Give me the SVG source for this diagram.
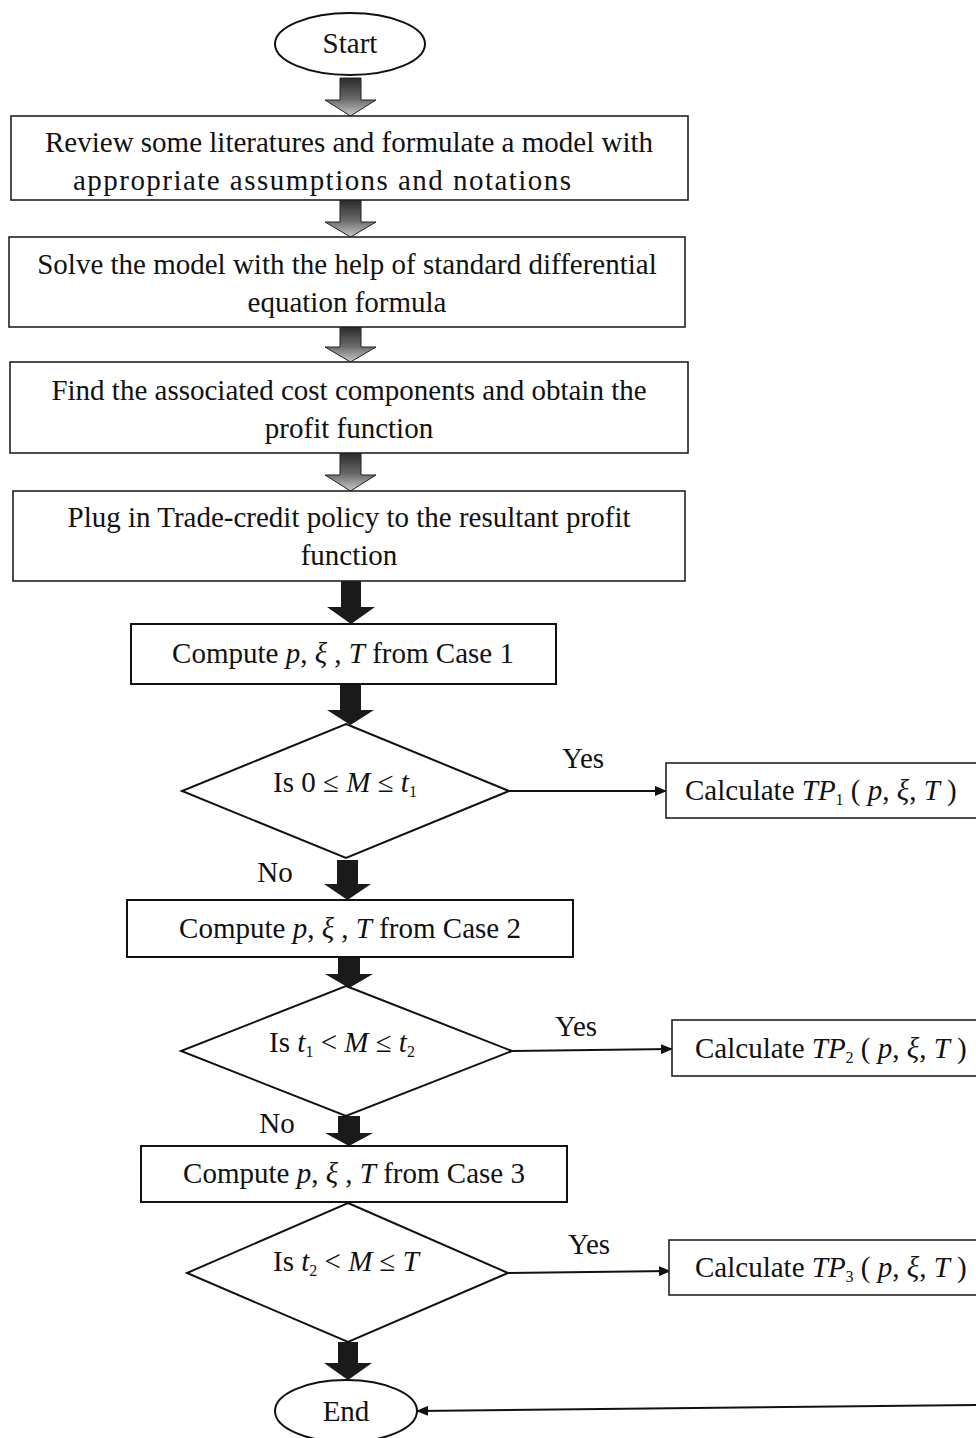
<svg xmlns="http://www.w3.org/2000/svg" width="976" height="1438" viewBox="0 0 976 1438">
<defs>
<style>
.box{fill:#fff;stroke:#222;stroke-width:1.6}
.sh{fill:#fff;stroke:#111;stroke-width:2}
.t{font-family:"Liberation Serif","Times New Roman",serif;font-size:29px;fill:#111}
.m{font-style:italic}
.sub{font-size:16px}
.ln{stroke:#111;stroke-width:2;fill:none}
.blk{fill:#1a1a1a}
.grd{fill:url(#gs);stroke:#222;stroke-width:1}
</style>
<linearGradient id="gs" x1="0" y1="0" x2="0" y2="1">
<stop offset="0" stop-color="#2a2a2a"/>
<stop offset="0.55" stop-color="#6a6a6a"/>
<stop offset="1" stop-color="#c8c8c8"/>
</linearGradient>
<marker id="ah" markerWidth="12" markerHeight="10" refX="11" refY="5" orient="auto" markerUnits="userSpaceOnUse">
<path d="M0,0 L12,5 L0,10 Z" fill="#111"/>
</marker>
</defs>

<g id="connectors">
<path class="grd" d="M340,78 H361 V100 H376 L350.5,116 L325,100 H340 Z"/>
<path class="grd" d="M340,200 H361 V222 H376 L350.5,237 L325,222 H340 Z"/>
<path class="grd" d="M340,327 H361 V347 H376 L350.5,362 L325,347 H340 Z"/>
<path class="grd" d="M340,453 H361 V475 H376 L350.5,491 L325,475 H340 Z"/>
<path class="blk" d="M341,581 H361 V607 H375 L351,624 L327,607 H341 Z"/>
<path class="blk" d="M340,684 H361 V710 H374 L350.5,725 L327,710 H340 Z"/>
<path class="blk" d="M337,860 H358 V884 H371 L347.5,900 L324,884 H337 Z"/>
<path class="blk" d="M338,957 H360 V974 H373 L349,988 L325,974 H338 Z"/>
<path class="blk" d="M338,1116 H360 V1133 H373 L349,1146 L325,1133 H338 Z"/>
<path class="blk" d="M338,1342 H358 V1363 H372 L348,1380 L324,1363 H338 Z"/>
<line class="ln" x1="509" y1="791" x2="666" y2="791" marker-end="url(#ah)"/>
<line class="ln" x1="512" y1="1051" x2="672" y2="1049" marker-end="url(#ah)"/>
<line class="ln" x1="508" y1="1273" x2="670" y2="1271" marker-end="url(#ah)"/>
<line class="ln" x1="976" y1="1405" x2="417" y2="1411" marker-end="url(#ah)"/>
<text class="t" x="583" y="768" text-anchor="middle">Yes</text>
<text class="t" x="576" y="1036" text-anchor="middle">Yes</text>
<text class="t" x="589" y="1254" text-anchor="middle">Yes</text>
<text class="t" x="275" y="882" text-anchor="middle">No</text>
<text class="t" x="277" y="1133" text-anchor="middle">No</text>
</g>

<g id="start">
<ellipse class="sh" cx="350" cy="44" rx="75" ry="31"/>
<text class="t" x="350" y="53" text-anchor="middle">Start</text>
</g>

<g id="review">
<rect class="box" x="11" y="116" width="677" height="84"/>
<text class="t" x="349" y="152" text-anchor="middle">Review some literatures and formulate a model with</text>
<text class="t" x="73" y="190" textLength="498" lengthAdjust="spacing">appropriate assumptions and notations</text>
</g>

<g id="solve">
<rect class="box" x="9" y="237" width="676" height="90"/>
<text class="t" x="347" y="274" text-anchor="middle">Solve the model with the help of standard differential</text>
<text class="t" x="347" y="312" text-anchor="middle">equation formula</text>
</g>

<g id="cost">
<rect class="box" x="10" y="362" width="678" height="91"/>
<text class="t" x="349" y="400" text-anchor="middle">Find the associated cost components and obtain the</text>
<text class="t" x="349" y="438" text-anchor="middle">profit function</text>
</g>

<g id="plug">
<rect class="box" x="13" y="491" width="672" height="90"/>
<text class="t" x="349" y="527" text-anchor="middle">Plug in Trade-credit policy to the resultant profit</text>
<text class="t" x="349" y="565" text-anchor="middle">function</text>
</g>

<g id="case1">
<rect class="sh" x="131" y="624" width="425" height="60"/>
<text class="t" x="343" y="663" text-anchor="middle">Compute  <tspan class="m">p</tspan>, <tspan class="m">ξ</tspan> , <tspan class="m">T</tspan>  from Case 1</text>
</g>

<g id="dec1">
<polygon class="sh" points="346,724 509,791 346,858 182,791"/>
<text class="t" x="345" y="792" text-anchor="middle">Is   0 ≤ <tspan class="m">M</tspan>  ≤ <tspan class="m">t</tspan><tspan class="sub" dy="5">1</tspan></text>
</g>

<g id="tp1">
<rect class="box" x="666" y="763" width="320" height="55"/>
<text class="t" x="685" y="800">Calculate <tspan class="m">TP</tspan><tspan class="sub" dy="5">1</tspan><tspan dy="-5"> ( </tspan><tspan class="m">p</tspan>, <tspan class="m">ξ</tspan>, <tspan class="m">T</tspan> )</text>
</g>

<g id="case2">
<rect class="sh" x="127" y="900" width="446" height="57"/>
<text class="t" x="350" y="938" text-anchor="middle">Compute  <tspan class="m">p</tspan>, <tspan class="m">ξ</tspan> , <tspan class="m">T</tspan>  from Case 2</text>
</g>

<g id="dec2">
<polygon class="sh" points="346,986 512,1051 346,1116 181,1051"/>
<text class="t" x="342" y="1052" text-anchor="middle">Is  <tspan class="m">t</tspan><tspan class="sub" dy="5">1</tspan><tspan dy="-5"> &lt; </tspan><tspan class="m">M</tspan> ≤ <tspan class="m">t</tspan><tspan class="sub" dy="5">2</tspan></text>
</g>

<g id="tp2">
<rect class="box" x="672" y="1020" width="314" height="56"/>
<text class="t" x="695" y="1058">Calculate <tspan class="m">TP</tspan><tspan class="sub" dy="5">2</tspan><tspan dy="-5"> ( </tspan><tspan class="m">p</tspan>, <tspan class="m">ξ</tspan>, <tspan class="m">T</tspan> )</text>
</g>

<g id="case3">
<rect class="sh" x="141" y="1146" width="426" height="56"/>
<text class="t" x="354" y="1183" text-anchor="middle">Compute  <tspan class="m">p</tspan>, <tspan class="m">ξ</tspan> , <tspan class="m">T</tspan>  from Case 3</text>
</g>

<g id="dec3">
<polygon class="sh" points="348,1203 508,1273 348,1342 187,1273"/>
<text class="t" x="346" y="1271" text-anchor="middle">Is  <tspan class="m">t</tspan><tspan class="sub" dy="5">2</tspan><tspan dy="-5"> &lt; </tspan><tspan class="m">M</tspan> ≤ <tspan class="m">T</tspan></text>
</g>

<g id="tp3">
<rect class="box" x="669" y="1240" width="317" height="55"/>
<text class="t" x="695" y="1277">Calculate <tspan class="m">TP</tspan><tspan class="sub" dy="5">3</tspan><tspan dy="-5"> ( </tspan><tspan class="m">p</tspan>, <tspan class="m">ξ</tspan>, <tspan class="m">T</tspan> )</text>
</g>

<g id="end">
<ellipse class="sh" cx="346" cy="1411" rx="71" ry="31"/>
<text class="t" x="346" y="1421" text-anchor="middle">End</text>
</g>
</svg>
